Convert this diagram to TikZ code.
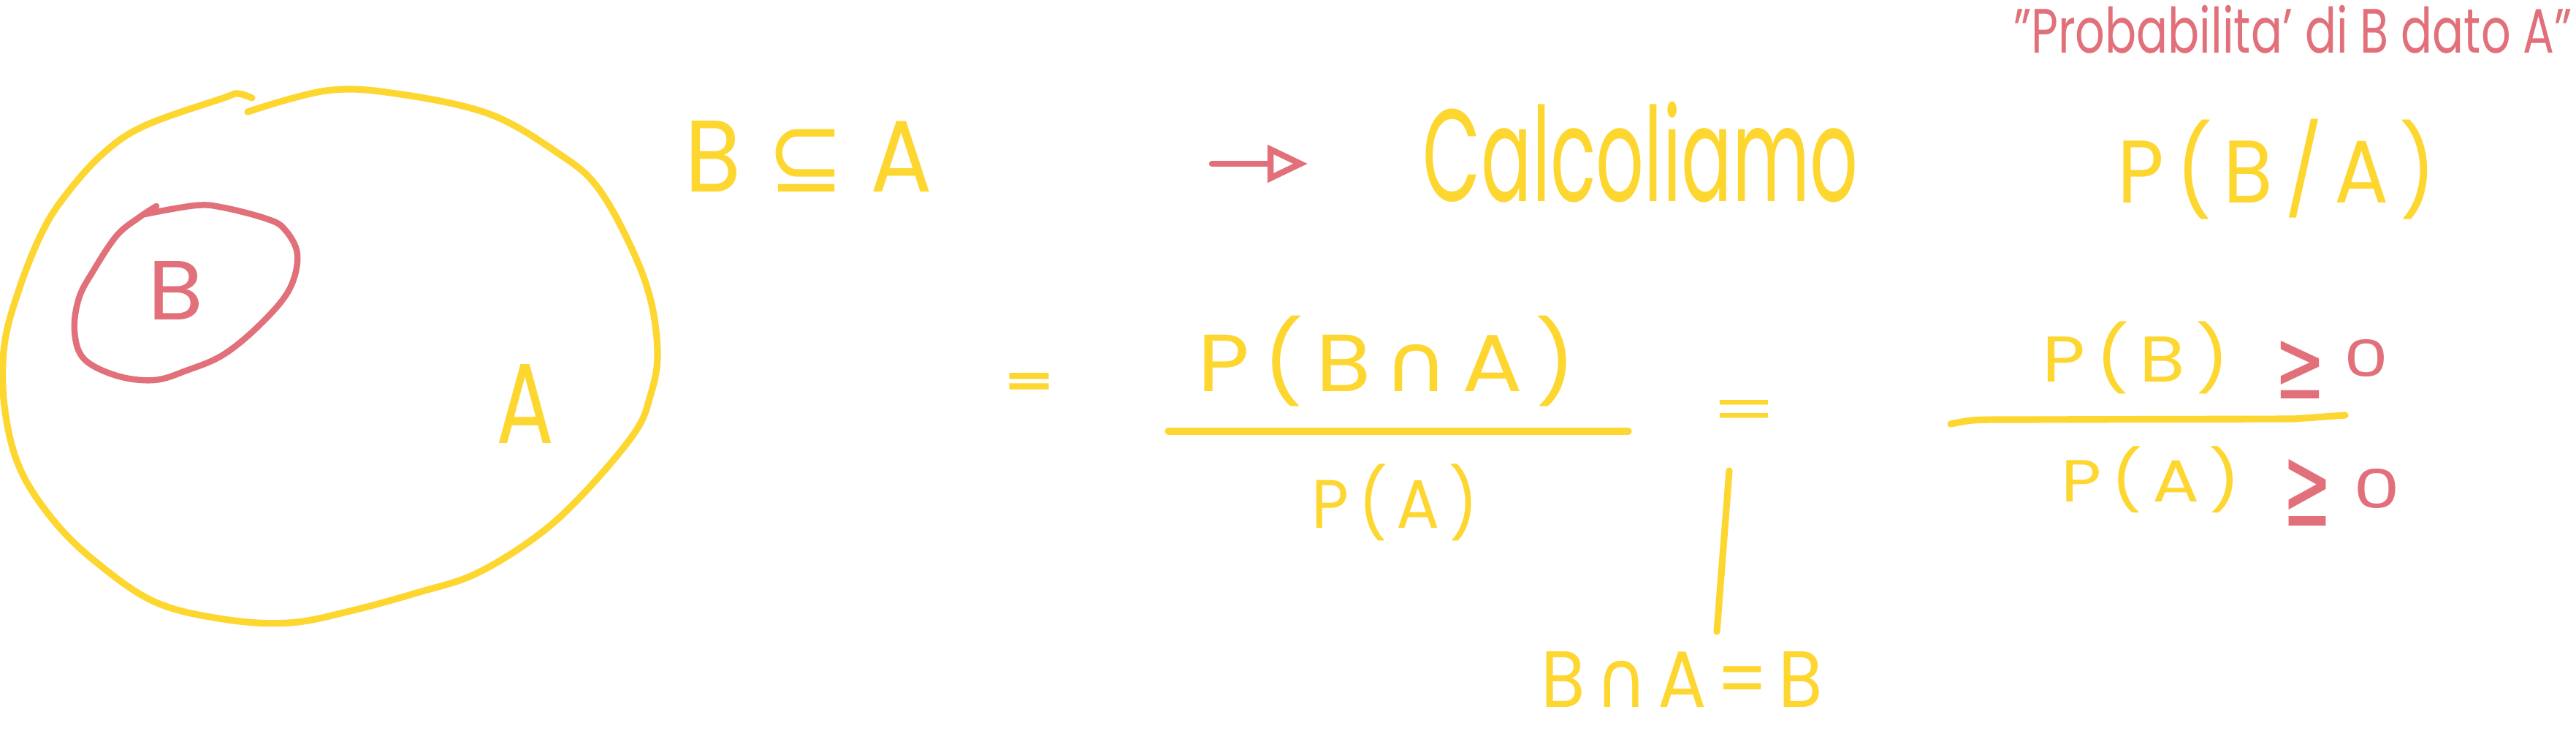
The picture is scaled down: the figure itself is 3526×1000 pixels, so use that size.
\documentclass[tikz,border=0pt]{standalone}
\usepackage{graphicx}
\usepackage{fontspec}
\setmainfont{Poppins}
\newfontfamily\symf{DejaVu Sans}
\usetikzlibrary{arrows.meta}
\definecolor{penY}{RGB}{254,214,48}
\definecolor{penR}{RGB}{225,112,122}
\newlength\px \setlength\px{0.01cm}
\newcommand\fitbox[3]{\resizebox*{#1\px}{#2\px}{#3}}
\newcommand\g{\hspace{0.14em}}
\begin{document}
\begin{tikzpicture}[x=0.01cm,y=-0.01cm,
  ystroke/.style={draw=penY, line width=2.6pt, line cap=round, line join=round},
  rstroke/.style={draw=penR, line width=2.4pt, line cap=round, line join=round},
  ytext/.style={inner sep=0pt, text=penY},
  rtext/.style={inner sep=0pt, text=penR}]
\fill[white] (0,0) rectangle (3526,1000);
\useasboundingbox (0,0) rectangle (3526,1000);

% big set A
\draw[ystroke] plot[smooth, tension=0.6] coordinates {(339,153) (447,124) (542,128) (670,156) (766,211) (817,255) (861,332) (890,408) (900,485) (890,542) (868,593) (798,676) (734,734) (651,785) (574,810) (479,836) (396,852) (306,847) (211,823) (128,766) (70,708) (26,638) (6,555) (6,472) (26,396) (57,319) (89,268) (140,211) (198,172) (306,134) (325,128) (345,134)};
% small set B
\draw[rstroke] plot[smooth, tension=0.6] coordinates {(214,282) (191,297) (160,322) (128,370) (108,408) (102,453) (115,491) (160,514) (211,520) (255,507) (306,485) (357,443) (396,396) (407,348) (389,313) (364,299) (306,284) (268,281) (198,293)};

\node[ytext] (aA) at (719.5,552) {\fitbox{79}{108}{A}};
\node[rtext] (bB) at (241,397) {\fitbox{76}{80}{B}};

% top row
\node[ytext] (subset) at (1107,213.5) {\fitbox{338}{97}{B\g\g{\symf ⊆}\g\g A}};
\coordinate (arrS) at (1659,224);
\coordinate (arrE) at (1790,224);
\draw[rstroke, -{Triangle[open, length=0.55cm, width=0.5cm]}] (arrS) -- (arrE);
\node[ytext] (calc) at (2245.5,208) {\fitbox{595}{138}{Calcoliamo}};
\node[ytext] (pba) at (3117,231.5) {\fitbox{436}{137}{P\g(\g B\g/\g A\g)}};
\node[rtext] (quote) at (3138.5,40) {\fitbox{765}{66}{"Probabilita' di B dato A"}};

% middle formula
\node[ytext] (eq1) at (1408.5,525.5) {\fitbox{67}{31}{\bfseries =}};
\node[ytext] (num1) at (1898.5,494) {\fitbox{517}{124}{P\g(\g B\g{\symf ∩}\g A\g)}};
\coordinate (bar1L) at (1599,590);
\coordinate (bar1R) at (2229,590);
\draw[ystroke] (bar1L) -- (bar1R);
\node[ytext] (den1) at (1909.5,687.5) {\fitbox{227}{105}{P\g(\g A\g)}};
\node[ytext] (eq2) at (2387,568.5) {\fitbox{92}{43}{=}};
\coordinate (vtop) at (2367,644);
\coordinate (vbot) at (2350,864);
\draw[ystroke] (vtop) -- (vbot);
\node[ytext] (bca) at (2302,929) {\fitbox{386}{76}{B\g{\symf ∩}\g A\g=\g B}};

% right fraction
\node[ytext] (pb) at (2923.5,489.5) {\fitbox{257}{99}{P\g(\g B\g)}};
\node[rtext] (ge1) at (3148,505.5) {\fitbox{70}{79}{\symf ≥}};
\node[rtext] (zero1) at (3238.5,489.5) {\fitbox{61}{51}{0}};
\coordinate (bar2L) at (2670,580);
\coordinate (bar2R) at (3210,568);
\draw[ystroke] (bar2L) .. controls (2700,574) .. (2760,574) -- (3140,573) -- (bar2R);
\node[ytext] (pa) at (2944,656.5) {\fitbox{246}{91}{P\g(\g A\g)}};
\node[rtext] (ge2) at (3158,673.5) {\fitbox{68}{91}{\symf ≥}};
\node[rtext] (zero2) at (3253,668) {\fitbox{64}{54}{0}};
\end{tikzpicture}
\end{document}
